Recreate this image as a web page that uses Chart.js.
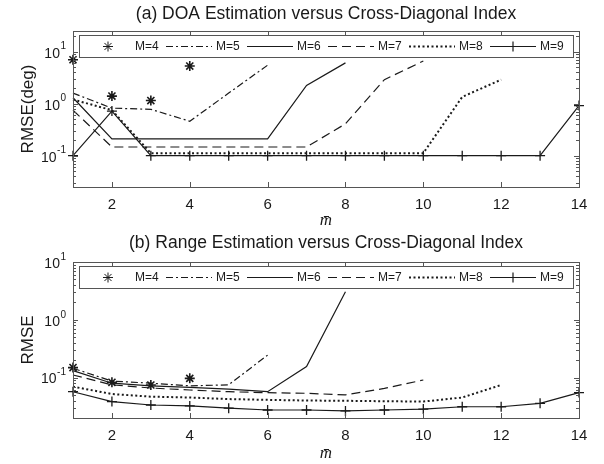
<!DOCTYPE html>
<html>
<head>
<meta charset="utf-8">
<script src="https://cdn.jsdelivr.net/npm/chart.js@4.4.1/dist/chart.umd.min.js"></script>
<style>
html, body { margin:0; padding:0; background:#fff; }
#wrap { position:relative; width:604px; height:464px; }
.pane { position:absolute; left:0; width:604px; }
</style>
</head>
<body>
<div id="wrap">
  <div class="pane" style="top:0"><canvas id="doa" width="604" height="231"></canvas></div>
  <div class="pane" style="top:231px"><canvas id="range" width="604" height="233"></canvas></div>
</div>
<script>
// cross-diagonal index m-bar
var mBar = [1,2,3,4,5,6,7,8,9,10,11,12,13,14];
var xTicks = [2,4,6,8,10,12,14];
var seriesNames = ['M=4','M=5','M=6','M=7','M=8','M=9'];

// (a) DOA RMSE (deg)
var doaM4 = [7.0, 1.4, 1.15, 5.3, null, null, null, null, null, null, null, null, null, null];
var doaM5 = [1.6, 0.82, 0.78, 0.46, 1.6, 5.5, null, null, null, null, null, null, null, null];
var doaM6 = [1.3, 0.21, 0.21, 0.21, 0.21, 0.21, 2.25, 6.1, null, null, null, null, null, null];
var doaM7 = [0.75, 0.147, 0.147, 0.147, 0.147, 0.147, 0.147, 0.41, 2.9, 6.6, null, null, null, null];
var doaM8 = [1.2, 0.75, 0.112, 0.112, 0.112, 0.112, 0.112, 0.112, 0.112, 0.112, 1.35, 2.9, null, null];
var doaM9 = [0.1, 0.72, 0.1, 0.1, 0.1, 0.1, 0.1, 0.1, 0.1, 0.1, 0.1, 0.1, 0.1, 0.92];

// (b) range RMSE
var rngM4 = [0.149, 0.083, 0.0745, 0.097, null, null, null, null, null, null, null, null, null, null];
var rngM5 = [0.145, 0.087, 0.08, 0.072, 0.075, 0.245, null, null, null, null, null, null, null, null];
var rngM6 = [0.132, 0.08, 0.072, 0.068, 0.063, 0.057, 0.155, 3.06, null, null, null, null, null, null];
var rngM7 = [0.111, 0.075, 0.066, 0.061, 0.057, 0.0548, 0.0535, 0.0503, 0.065, 0.091, null, null, null, null];
var rngM8 = [0.0697, 0.052, 0.0468, 0.0452, 0.0425, 0.0412, 0.0401, 0.0397, 0.039, 0.0385, 0.0452, 0.0745, null, null];
var rngM9 = [0.057, 0.0385, 0.0336, 0.0324, 0.0296, 0.0275, 0.0275, 0.0265, 0.0275, 0.0285, 0.0313, 0.0313, 0.0359, 0.055];

var ink = '#1a1a1a';
var frameColor = '#555';
var sans = '"Liberation Sans", Arial, sans-serif';
// line style per series, same order as seriesNames
var styles = [
  {showLine:false, dash:[], width:1.2, point:'star', radius:5, pw:1.6},
  {showLine:true, dash:[7,3,2,3], width:1.2, point:false, radius:0, pw:1},
  {showLine:true, dash:[], width:1.2, point:false, radius:0, pw:1},
  {showLine:true, dash:[9,5], width:1.2, point:false, radius:0, pw:1},
  {showLine:true, dash:[2,2.5], width:2, point:false, radius:0, pw:1},
  {showLine:true, dash:[], width:1.2, point:'cross', radius:5, pw:1.3}
];

function makeSets(list){
  return list.map(function(vals, i){
    var s = styles[i];
    return {
      label: seriesNames[i],
      data: mBar.map(function(m, j){ return {x:m, y:vals[j]}; }),
      showLine: s.showLine,
      borderDash: s.dash,
      borderWidth: s.width,
      borderColor: ink,
      backgroundColor: ink,
      pointStyle: s.point,
      pointRadius: s.radius,
      pointHoverRadius: s.radius,
      pointBorderWidth: s.pw,
      pointBorderColor: ink,
      tension: 0,
      spanGaps: false,
      clip: false
    };
  });
}

// title over the plot, box, inward ticks, 10^n labels and the legend inside the plot
var matlabFrame = {
  id: 'matlabFrame',
  afterDatasetsDraw: function(chart, args, opts){
    var a = chart.chartArea, ctx = chart.ctx;
    var xs = chart.scales.x, ys = chart.scales.y;
    ctx.save();

    ctx.fillStyle = ink;
    ctx.font = '17.5px ' + sans;
    ctx.textAlign = 'center';
    ctx.textBaseline = 'middle';
    ctx.fillText(opts.title, (a.left + a.right) / 2, opts.titleY);

    ctx.setLineDash([]);
    ctx.strokeStyle = frameColor;
    ctx.lineWidth = 1;
    ctx.strokeRect(Math.round(a.left)+0.5, Math.round(a.top)+0.5, Math.round(a.right-a.left), Math.round(a.bottom-a.top));
    ctx.beginPath();
    xTicks.forEach(function(v){
      var px = Math.round(xs.getPixelForValue(v)) + 0.5;
      ctx.moveTo(px, a.bottom); ctx.lineTo(px, a.bottom - 5);
      ctx.moveTo(px, a.top); ctx.lineTo(px, a.top + 5);
    });
    var lo = Math.floor(Math.log10(ys.min)), hi = Math.floor(Math.log10(ys.max));
    for (var d = lo; d <= hi; d++) {
      for (var k = 1; k <= 9; k++) {
        var v = k * Math.pow(10, d);
        if (v < ys.min || v > ys.max) continue;
        var py = Math.round(ys.getPixelForValue(v)) + 0.5;
        var len = k === 1 ? 5 : 3;
        ctx.moveTo(a.left, py); ctx.lineTo(a.left + len, py);
        ctx.moveTo(a.right, py); ctx.lineTo(a.right - len, py);
      }
    }
    ctx.stroke();

    // decade labels with raised exponent
    ctx.fillStyle = ink;
    ctx.textBaseline = 'middle';
    for (var e = Math.ceil(Math.log10(ys.min)); e <= Math.floor(Math.log10(ys.max)); e++) {
      var y = ys.getPixelForValue(Math.pow(10, e));
      var right = a.left - 7;
      ctx.font = '10px ' + sans;
      ctx.textAlign = 'right';
      var expText = String(e);
      ctx.fillText(expText, right, y - 5);
      var ew = ctx.measureText(expText).width;
      ctx.font = '14px ' + sans;
      ctx.fillText('10', right - ew - 0.5, y + 2);
    }

    // legend
    var x0 = Math.round(a.left) + 6, x1 = Math.round(a.right) - 6, y0 = Math.round(a.top) + 4, h = 22;
    ctx.fillStyle = '#fff';
    ctx.fillRect(x0, y0, x1 - x0, h);
    ctx.strokeStyle = frameColor;
    ctx.strokeRect(x0 + 0.5, y0 + 0.5, x1 - x0, h);
    var cy = y0 + h / 2 + 0.5;
    chart.data.datasets.forEach(function(ds, i){
      var sx = a.left + 12 + i * 81, ex = sx + 46;
      ctx.strokeStyle = ds.borderColor;
      ctx.fillStyle = ds.borderColor;
      if (ds.showLine) {
        ctx.setLineDash(ds.borderDash);
        ctx.lineWidth = ds.borderWidth;
        ctx.beginPath(); ctx.moveTo(sx, cy); ctx.lineTo(ex, cy); ctx.stroke();
        ctx.setLineDash([]);
      }
      if (ds.pointStyle) {
        Chart.helpers.drawPoint(ctx, {pointStyle: ds.pointStyle, radius: ds.pointRadius, borderWidth: ds.pointBorderWidth, rotation: 0}, (sx + ex) / 2, cy);
      }
      ctx.fillStyle = ink;
      ctx.font = '12px ' + sans;
      ctx.textAlign = 'left';
      ctx.textBaseline = 'middle';
      ctx.fillText(ds.label, ex + 4, cy);
    });
    ctx.restore();
  }
};

function buildChart(id, title, yTitle, sets, yMin, yMax, canvasH, titleY){
  return new Chart(document.getElementById(id), {
    type: 'line',
    data: { datasets: makeSets(sets) },
    plugins: [matlabFrame],
    options: {
      responsive: false,
      animation: false,
      events: [],
      layout: { padding: { left: 0, right: 25, top: 31, bottom: 0 } },
      plugins: {
        legend: { display: false },
        tooltip: { enabled: false },
        title: { display: false },
        matlabFrame: { title: title, titleY: titleY }
      },
      scales: {
        x: {
          type: 'linear', min: 1, max: 14,
          grid: { display: false, drawTicks: false },
          border: { display: false },
          afterBuildTicks: function(s){ s.ticks = xTicks.map(function(v){ return {value: v}; }); },
          afterFit: function(s){ s.height = canvasH - 187; },
          ticks: { color: ink, padding: 9, maxRotation: 0,
                   font: { family: sans, size: 15 } },
          title: { display: true, text: 'm\u0304', color: ink,
                   font: { family: '"Liberation Serif", "DejaVu Serif", serif', size: 17, style: 'italic' },
                   padding: { top: 0, bottom: 0 } }
        },
        y: {
          type: 'logarithmic', min: yMin, max: yMax,
          grid: { display: false, drawTicks: false },
          border: { display: false },
          ticks: { display: false },
          afterFit: function(s){ s.width = 73; },
          title: { display: true, text: yTitle, color: ink,
                   font: { family: sans, size: 17 },
                   padding: { top: 18, bottom: 0 } }
        }
      }
    }
  });
}

buildChart('doa', '(a) DOA Estimation versus Cross-Diagonal Index', 'RMSE(deg)',
  [doaM4, doaM5, doaM6, doaM7, doaM8, doaM9], 0.025, 25, 231, 14);
buildChart('range', '(b) Range Estimation versus Cross-Diagonal Index', 'RMSE',
  [rngM4, rngM5, rngM6, rngM7, rngM8, rngM9], 0.02, 10, 233, 12);
</script>
</body>
</html>
